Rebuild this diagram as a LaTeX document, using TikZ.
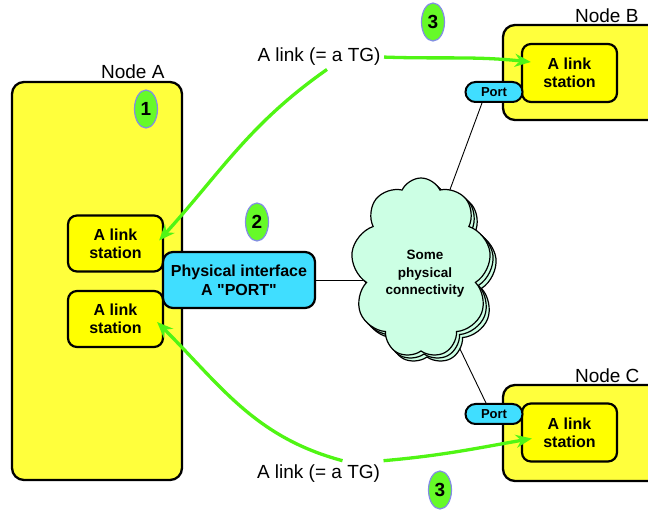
\documentclass[tikz,border=0pt]{standalone}
\usepackage{fontspec}
\setmainfont{Liberation Sans}
\usetikzlibrary{positioning,arrows.meta,shapes.geometric,shapes.symbols,shapes.misc}
\definecolor{boxyellow}{RGB}{255,255,60}
\definecolor{lsyellow}{RGB}{255,255,0}
\definecolor{portcyan}{RGB}{64,222,255}
\definecolor{cloudgreen}{RGB}{204,255,228}
\definecolor{stepgreen}{RGB}{102,250,40}
\definecolor{stepedge}{RGB}{130,140,230}
\definecolor{tggreen}{RGB}{80,245,20}

\begin{document}
\begin{tikzpicture}[x=1pt,y=-1pt,
  nodebox/.style={draw,line width=2.3pt,rounded corners=12pt,fill=boxyellow},
  nodename/.style={anchor=base east,font=\fontsize{19}{22}\selectfont},
  linkstation/.style={draw,line width=2.2pt,rounded corners=9pt,fill=lsyellow,
    minimum width=95pt,minimum height=56pt,inner sep=0pt,align=center,
    font=\fontsize{16}{18}\selectfont\bfseries},
  portbox/.style={draw,line width=2.2pt,rounded corners=10pt,fill=portcyan,
    minimum width=152pt,minimum height=56pt,inner sep=0pt,align=center,
    font=\fontsize{16}{19}\selectfont\bfseries},
  smallport/.style={draw,line width=2pt,rounded rectangle,fill=portcyan,
    minimum width=57pt,minimum height=20pt,inner sep=0pt,
    font=\fontsize{13}{15}\selectfont\bfseries},
  net/.style={cloud,cloud puffs=9,cloud puff arc=130,cloud ignores aspect,
    draw,line width=1.2pt,fill=cloudgreen,minimum width=140pt,minimum height=180pt},
  stepno/.style={ellipse,draw=stepedge,line width=1.2pt,fill=stepgreen,
    minimum width=23pt,minimum height=38pt,inner sep=0pt,
    font=\fontsize{19}{22}\selectfont\bfseries},
  tglabel/.style={anchor=base,font=\fontsize{19}{22}\selectfont},
  tg/.style={-{Stealth[length=16pt,width=13pt]},draw=tggreen,line width=3.3pt},
  wire/.style={draw,line width=0.9pt}]
\clip (0,0) rectangle (648,510);

\node[nodebox,minimum width=170pt,minimum height=398pt] (nodeA) at (97,281) {};
\node[nodebox,minimum width=170pt,minimum height=95pt] (nodeB) at (588,72.5) {};
\node[nodebox,minimum width=170pt,minimum height=96pt] (nodeC) at (588,433) {};
\node[nodename] (nameA) at (168,79) {Node A};
\node[nodename] (nameB) at (642,23) {Node B};
\node[nodename] (nameC) at (643,383) {Node C};

\node[linkstation] (stA1) at (115.5,243.5) {A link\\station};
\node[linkstation] (stA2) at (115.5,319) {A link\\station};
\node[linkstation,minimum height=58pt] (stB) at (569.5,73) {A link\\station};
\node[linkstation,minimum height=58pt] (stC) at (569.5,432.5) {A link\\station};
\node[portbox] (phys) at (239,280) {Physical interface\\A \textquotedbl PORT\textquotedbl};
\node[smallport] (portB) at (494,92) {Port};
\node[smallport] (portC) at (494,414) {Port};

\coordinate (netc) at (421,268);
\draw[wire] (phys.east) -- (phys.east -| netc);
\draw[wire] ([xshift=-12pt]portB.south) -- (netc);
\draw[wire] ([xshift=-8pt]portC.north) -- (netc);
\node[net] (net3) at (427,274) {};
\node[net] (net2) at (424,271) {};
\node[net] (net1) at (netc) {};
\node[align=center,font=\fontsize{13.5}{17.5}\selectfont\bfseries] (nettext) at (425,274)
  {Some\\physical\\connectivity};

\node[stepno] (one) at (146,109) {1};
\node[stepno] (two) at (257,222) {2};
\node[stepno] (threetop) at (433,22) {3};
\node[stepno] (threebot) at (440,490) {3};

\node[tglabel] (tgtop) at (319,62) {A link (= a TG)};
\node[tglabel] (tgbot) at (318.5,478) {A link (= a TG)};

\path (tgtop.east) edge[tg,out=-2,in=174] ([xshift=10pt,yshift=11pt]stB.west)
      ([xshift=8pt]tgtop.south) edge[tg,out=215,in=48] ([xshift=-5pt,yshift=3pt]stA1.east)
      (tgbot.north east) edge[tg,out=5,in=190] ([xshift=11pt,yshift=-6pt]stC.west)
      ([xshift=24pt]tgbot.north) edge[tg,out=165,in=-45] ([xshift=-7pt,yshift=-3pt]stA2.east);
\end{tikzpicture}
\end{document}
